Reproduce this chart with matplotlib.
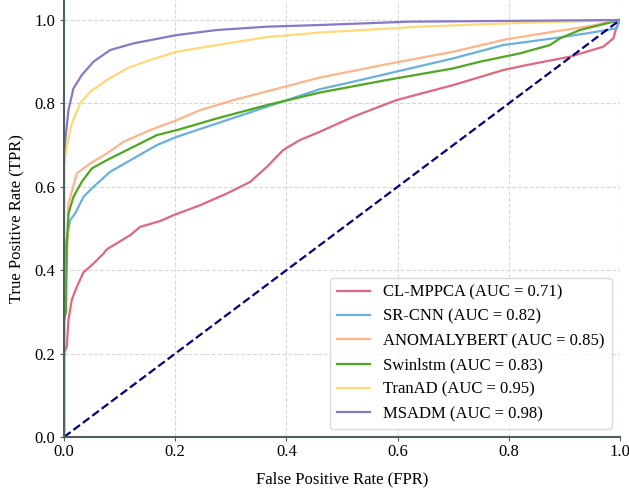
import matplotlib
matplotlib.use("Agg")
import matplotlib.pyplot as plt
import numpy as np

plt.rcParams['font.family'] = ['Liberation Serif', 'DejaVu Serif']

# ROC points (fpr, tpr)
names = ["CL-MPPCA", "SR-CNN", "ANOMALYBERT", "Swinlstm", "TranAD", "MSADM"]
aucs = [0.71, 0.82, 0.85, 0.83, 0.95, 0.98]
colors = ["#e0677e", "#69b0e0", "#ffb48a", "#4ea81e", "#ffd978", "#8878c8"]

fpr_clmppca = [0, 0, 0.005, 0.008, 0.014, 0.023, 0.035, 0.053, 0.071, 0.077, 0.119, 0.137, 0.173, 0.197, 0.245,
               0.293, 0.335, 0.365, 0.394, 0.424, 0.46, 0.52, 0.598, 0.70, 0.79, 0.832, 0.91, 0.97, 0.988, 0.994, 1.0]
tpr_clmppca = [0, 0.20, 0.217, 0.281, 0.329, 0.360, 0.395, 0.416, 0.440, 0.450, 0.484, 0.504, 0.518, 0.532, 0.556,
               0.584, 0.612, 0.648, 0.688, 0.712, 0.732, 0.768, 0.808, 0.844, 0.880, 0.892, 0.912, 0.936, 0.956, 0.984, 1.0]

fpr_srcnn = [0, 0, 0.004, 0.011, 0.020, 0.035, 0.053, 0.083, 0.125, 0.167, 0.203, 0.275, 0.365, 0.46,
             0.52, 0.61, 0.70, 0.79, 0.88, 0.94, 0.994, 1.0]
tpr_srcnn = [0, 0.30, 0.47, 0.520, 0.536, 0.576, 0.600, 0.636, 0.668, 0.700, 0.720, 0.752, 0.792, 0.834,
             0.852, 0.880, 0.908, 0.940, 0.956, 0.968, 0.980, 1.0]

fpr_bert = [0, 0, 0.005, 0.008, 0.023, 0.047, 0.077, 0.107, 0.155, 0.203, 0.245, 0.305, 0.394, 0.46,
            0.58, 0.70, 0.796, 0.88, 0.94, 1.0]
tpr_bert = [0, 0.30, 0.416, 0.560, 0.632, 0.656, 0.680, 0.708, 0.736, 0.760, 0.784, 0.808, 0.839, 0.862,
            0.894, 0.924, 0.954, 0.972, 0.984, 1.0]

fpr_swin = [0, 0, 0.0036, 0.005, 0.008, 0.017, 0.032, 0.050, 0.077, 0.125, 0.167, 0.203, 0.275, 0.365, 0.46,
            0.58, 0.70, 0.748, 0.82, 0.874, 0.892, 0.928, 0.964, 1.0]
tpr_swin = [0, 0.28, 0.30, 0.456, 0.536, 0.576, 0.612, 0.644, 0.664, 0.696, 0.724, 0.736, 0.764, 0.796, 0.826,
            0.856, 0.884, 0.900, 0.920, 0.940, 0.956, 0.976, 0.988, 1.0]

fpr_tranad = [0, 0, 0.0036, 0.014, 0.029, 0.047, 0.077, 0.113, 0.155, 0.203, 0.275, 0.365, 0.46,
              0.64, 0.82, 1.0]
tpr_tranad = [0, 0.65, 0.688, 0.752, 0.800, 0.828, 0.856, 0.884, 0.904, 0.924, 0.940, 0.959, 0.970,
              0.984, 0.993, 1.0]

fpr_msadm = [0, 0, 0.003, 0.008, 0.017, 0.032, 0.053, 0.083, 0.125, 0.203, 0.275, 0.365, 0.46, 0.62, 1.0]
tpr_msadm = [0, 0.68, 0.72, 0.784, 0.836, 0.868, 0.900, 0.928, 0.944, 0.964, 0.976, 0.984, 0.988, 0.996, 1.0]

fprs = [fpr_clmppca, fpr_srcnn, fpr_bert, fpr_swin, fpr_tranad, fpr_msadm]
tprs = [tpr_clmppca, tpr_srcnn, tpr_bert, tpr_swin, tpr_tranad, tpr_msadm]

fig = plt.figure(figsize=(6.29, 4.93), dpi=100)
ax = fig.add_axes([64 / 629, 56 / 493, 556 / 629, 437 / 493])

for i in range(len(names)):
    ax.plot(fprs[i], tprs[i], color=colors[i], lw=1.6, label=f"{names[i]} (AUC = {aucs[i]:.2f})")

ax.plot([0, 1], [0, 1], color="navy", lw=1.6, linestyle="--")

ax.set_xlim(0, 1)
ax.set_ylim(0, 1.048)
ax.set_xticks(np.arange(0, 1.01, 0.2))
ax.set_yticks(np.arange(0, 1.01, 0.2))
ax.grid(True, linestyle="--", color="#d8d8d8", lw=0.8)
ax.set_axisbelow(True)

for s in ["top", "right"]:
    ax.spines[s].set_visible(False)
for s in ["left", "bottom"]:
    ax.spines[s].set_color("#4d5f5f")
    ax.spines[s].set_linewidth(1.5)

ax.tick_params(axis="both", labelsize=12, length=3, color="#4d5f5f")
ax.tick_params(axis="x", pad=2)
ax.set_xlabel("False Positive Rate (FPR)", fontsize=12, labelpad=8)
ax.set_ylabel("True Positive Rate (TPR)", fontsize=12, labelpad=6)
ax.legend(loc="lower right", fontsize=12, frameon=True, edgecolor="#d0d0d0")

plt.savefig("out.png", dpi=100)
plt.close()
